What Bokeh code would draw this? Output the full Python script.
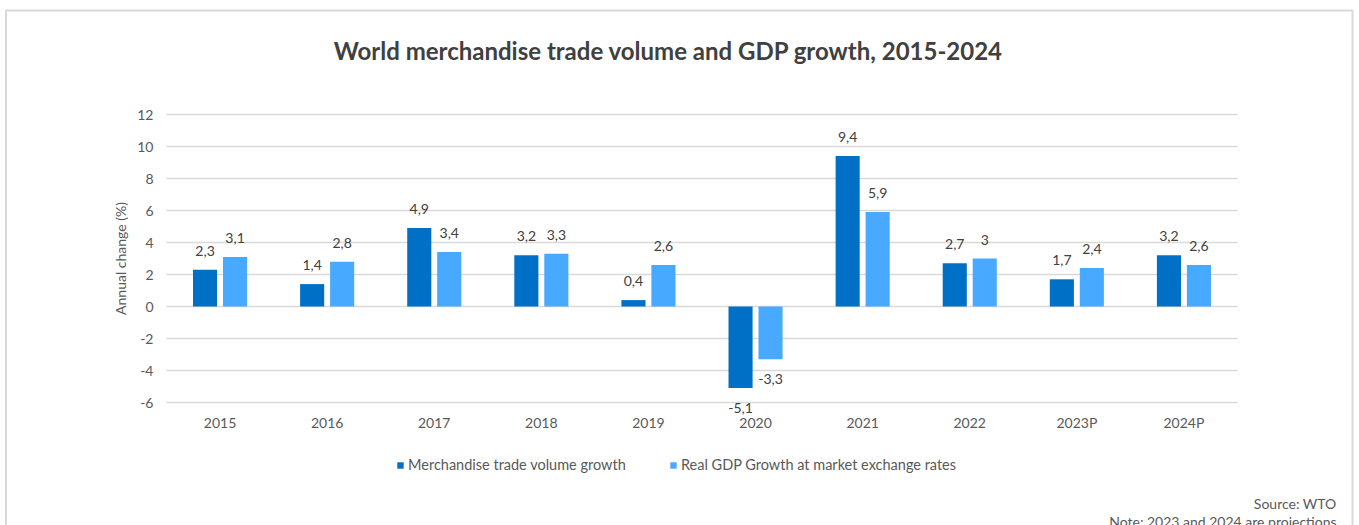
from bokeh.plotting import figure
from bokeh.models import (ColumnDataSource, Range1d, FixedTicker, LabelSet,
                          Label, Legend, LegendItem)
from bokeh.core.properties import value
from bokeh.transform import dodge
from bokeh.embed import file_html
from bokeh.resources import INLINE

years = ["2015", "2016", "2017", "2018", "2019", "2020", "2021", "2022", "2023P", "2024P"]
trade = [2.3, 1.4, 4.9, 3.2, 0.4, -5.1, 9.4, 2.7, 1.7, 3.2]
gdp = [3.1, 2.8, 3.4, 3.3, 2.6, -3.3, 5.9, 3.0, 2.4, 2.6]
y_ticks = [-6, -4, -2, 0, 2, 4, 6, 8, 10, 12]

series_names = ["Merchandise trade volume growth", "Real GDP Growth at market exchange rates"]
title_text = "World merchandise trade volume and GDP growth, 2015-2024"
source_text = "Source: WTO"
note_text = "Note: 2023 and 2024 are projections"

DARK = "#0070C6"
LIGHT = "#47A9FF"
FONT = "Lato"
TXT = "#595959"

def fmt(v):
    return f"{v:g}".replace(".", ",")

idx = list(range(len(years)))
src = ColumnDataSource(dict(
    idx=idx, trade=trade, gdp=gdp,
    trade_lbl=[fmt(v) for v in trade], gdp_lbl=[fmt(v) for v in gdp],
    trade_off=[19 if v >= 0 else -20 for v in trade],
    gdp_off=[19 if v >= 0 else -20 for v in gdp],
))

# layout: the frame covers the whole canvas; canvas sits at page (0, 0)
W, H = 1359, 525
OX, OY = 0, 0
CAT_X0, CAT_W = 219.55, 107.1      # page x of first category centre, px per category
ZERO_Y, UNIT_Y = 306.0, 16.0       # page y of value 0, px per unit

def dx(px):
    return (px - CAT_X0) / CAT_W
def dy(py):
    return (ZERO_Y - py) / UNIT_Y

p = figure(x_range=Range1d(dx(OX), dx(OX + W)), y_range=Range1d(dy(OY + H), dy(OY)),
           width=W, height=H, output_backend="svg", toolbar_location=None,
           min_border=0, min_border_left=0, min_border_right=0,
           min_border_top=0, min_border_bottom=0)
p.outline_line_color = None
p.background_fill_color = "white"
p.border_fill_color = "white"

# outer chart border
p.quad(left=[dx(5.5)], right=[dx(1352)], top=[dy(10)], bottom=[dy(OY + H + 20)],
       fill_alpha=0, line_color="#d9d9d9", line_width=2)

# grid
p.xgrid.grid_line_color = None
p.ygrid.ticker = FixedTicker(ticks=y_ticks)
p.ygrid.grid_line_color = "#d9d9d9"
p.ygrid.grid_line_width = 1.5
try:
    p.ygrid.cross_bounds = (-0.5, len(years) - 0.5)
except AttributeError:
    p.ygrid.grid_line_color = None
    p.segment(x0=[-0.5] * len(y_ticks), x1=[len(years) - 0.5] * len(y_ticks),
              y0=y_ticks, y1=y_ticks, line_color="#d9d9d9", line_width=1.5)

r1 = p.vbar(x=dodge("idx", -0.14), top="trade", width=0.225,
            source=src, color=DARK, line_color=None)
r2 = p.vbar(x=dodge("idx", 0.14), top="gdp", width=0.225,
            source=src, color=LIGHT, line_color=None)

for yf, tf, of, off in [("trade", "trade_lbl", "trade_off", -0.14), ("gdp", "gdp_lbl", "gdp_off", 0.14)]:
    p.add_layout(LabelSet(x=dodge("idx", off), y=yf, text=tf, y_offset=of,
                          source=src, text_align="center", text_baseline="middle",
                          text_font=value(FONT), text_font_size=value("14px"),
                          text_color="#404040"))

# axes placed inside the frame
p.yaxis.fixed_location = -0.5
p.yaxis.bounds = (min(y_ticks), max(y_ticks))
p.yaxis.ticker = FixedTicker(ticks=y_ticks)
p.yaxis.major_label_overrides = {t: str(t) for t in y_ticks}
p.yaxis.axis_line_color = None
p.yaxis.major_tick_line_color = None
p.yaxis.major_tick_out = 0
p.yaxis.major_tick_in = 0
p.yaxis.minor_tick_line_color = None
p.yaxis.major_label_standoff = 13
p.yaxis.major_label_text_font = FONT
p.yaxis.major_label_text_font_size = "14px"
p.yaxis.major_label_text_color = TXT
p.yaxis.axis_label = "Annual change (%)"
p.yaxis.axis_label_text_font = FONT
p.yaxis.axis_label_text_font_style = "normal"
p.yaxis.axis_label_text_font_size = "14px"
p.yaxis.axis_label_text_color = TXT
p.yaxis.axis_label_standoff = 5

p.xaxis.fixed_location = min(y_ticks)
p.xaxis.ticker = FixedTicker(ticks=idx)
p.xaxis.major_label_overrides = {i: y for i, y in zip(idx, years)}
p.xaxis.axis_line_color = None
p.xaxis.major_tick_line_color = None
p.xaxis.major_tick_out = 0
p.xaxis.major_tick_in = 0
p.xaxis.minor_tick_line_color = None
p.xaxis.major_label_standoff = 11
p.xaxis.major_label_text_font = FONT
p.xaxis.major_label_text_font_size = "14px"
p.xaxis.major_label_text_color = TXT

# texts
p.add_layout(Label(x=dx(668), y=dy(50), text=title_text, text_align="center",
                   text_baseline="middle", text_font=FONT, text_font_size="24px",
                   text_font_style="bold", text_color="#404040"))
p.add_layout(Label(x=dx(1336), y=dy(503), text=source_text, text_align="right",
                   text_baseline="middle", text_font=FONT, text_font_size="14px",
                   text_color=TXT))
p.add_layout(Label(x=dx(1336), y=dy(521), text=note_text, text_align="right",
                   text_baseline="middle", text_font=FONT, text_font_size="14px",
                   text_color=TXT))

# legend (one box per series, placed relative to the frame's bottom-left)
for rend, name, px in [(r1, series_names[0], 396), (r2, series_names[1], 669)]:
    lg = Legend(items=[LegendItem(label=name, renderers=[rend])],
                location=(px - OX, (OY + H) - 473),
                orientation="horizontal", padding=0, margin=0, spacing=0,
                glyph_width=8, glyph_height=8, label_standoff=4, label_height=16,
                border_line_color=None, background_fill_alpha=0,
                label_text_font=FONT, label_text_font_size="14.5px",
                label_text_color=TXT)
    p.add_layout(lg, "center")

open("out.html", "w").write(file_html(p, INLINE))
